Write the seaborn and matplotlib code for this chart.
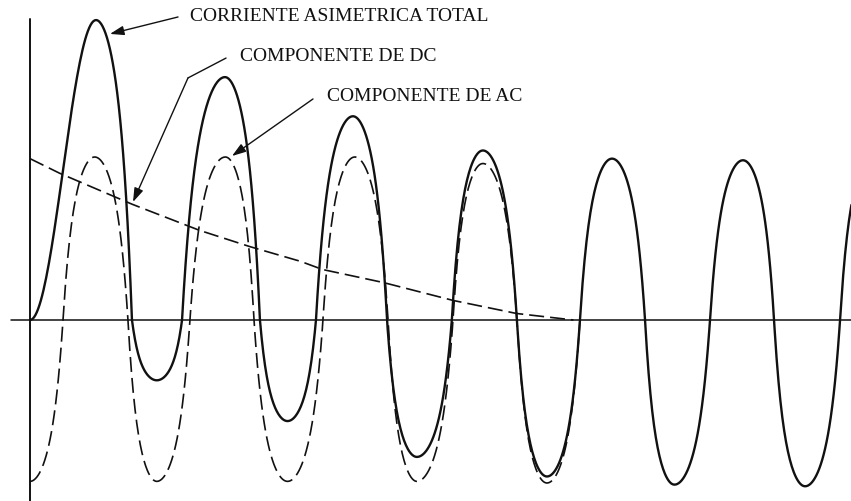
import numpy as np
import pandas as pd
import matplotlib
matplotlib.use("Agg")
import matplotlib.pyplot as plt
import seaborn as sns

# tiempo en ciclos, corriente en unidades de la amplitud de AC
# componente de DC (decae hasta cero)
t_dc = [0.0, 0.23, 0.79, 1.31, 1.70, 2.09, 2.26, 2.73, 3.27, 3.76, 4.20]
i_dc = [0.99, 0.90, 0.71, 0.55, 0.45, 0.36, 0.31, 0.23, 0.12, 0.04, 0.0]

# componente de AC: maximos, minimos y cruces por cero
t_ac = [0.0, 0.255, 0.50, 0.757, 0.98, 1.236, 1.51, 1.731, 1.99, 2.264,
        2.51, 2.767, 2.99, 3.269, 3.50, 3.763, 3.995, 4.25]
i_ac = [-0.99, 0, 1.0, 0, -0.99, 0, 1.0, 0, -0.99, 0,
        1.0, 0, -0.99, 0, 0.96, 0, -1.0, 0]

# corriente asimetrica total
t_tot = [0.0, 0.51, 0.788, 0.98, 1.175, 1.507, 1.777, 1.99, 2.21, 2.496,
         2.759, 2.99, 3.26, 3.50, 3.763, 3.995, 4.25, 4.498, 4.753, 4.98,
         5.255, 5.51, 5.75, 5.99, 6.26, 6.50]
i_tot = [0.0, 1.84, 0, -0.37, 0, 1.49, 0, -0.62, 0, 1.25,
         0, -0.84, 0, 1.04, 0, -0.96, 0, 0.99, 0, -1.01,
         0, 0.98, 0, -1.02, 0, 0.99]

etiquetas = ["CORRIENTE ASIMETRICA TOTAL", "COMPONENTE DE DC", "COMPONENTE DE AC"]

# forma de cada medio lobulo: punta redonda y flancos empinados como en el dibujo
redondez, flanco = 0.62, 5


def perfil(s):
    return 1 - redondez * s ** 2 - (1 - redondez) * s ** flanco


def onda(tk, yk, n=50):
    """traza la forma de onda entre los puntos leidos"""
    ts, ys = [], []
    for k in range(len(tk) - 1):
        t0, t1, y0, y1 = tk[k], tk[k + 1], yk[k], yk[k + 1]
        s = np.linspace(0, 1, n)
        if y1 == 0 and y0 != 0:  # maximo -> cero
            y = y0 * perfil(s)
        elif y0 == 0 and k > 0:  # cero -> maximo
            y = y1 * perfil(1 - s)
        else:  # arranque desde el origen
            y = y0 + (y1 - y0) * (1 - np.cos(np.pi * s)) / 2
        ts.extend(t0 + (t1 - t0) * s)
        ys.extend(y)
    return pd.DataFrame({"t": ts, "i": ys})


df_tot = onda(t_tot, i_tot)
df_ac = onda(t_ac, i_ac)
df_dc = pd.DataFrame({"t": t_dc, "i": i_dc})

sns.set_theme(style="white")
plt.rcParams["font.family"] = ["Liberation Serif", "DejaVu Serif"]

fig = plt.figure(figsize=(8.51, 5.02), dpi=100)
ax = fig.add_axes([0, 0, 1, 1])

tinta = "#111111"
guion = (0, (9, 3.6))

sns.lineplot(data=df_tot, x="t", y="i", ax=ax, sort=False, estimator=None,
             color=tinta, linewidth=1.7)
sns.lineplot(data=df_ac, x="t", y="i", ax=ax, sort=False, estimator=None,
             color=tinta, linewidth=1.2, linestyle=guion)
sns.lineplot(data=df_dc, x="t", y="i", ax=ax, sort=False, estimator=None,
             color=tinta, linewidth=1.2, linestyle=guion)

# ejes dibujados a mano
ax.axhline(0, xmin=0.0134, xmax=1, color=tinta, linewidth=1.1)
ax.axvline(0, ymin=0, ymax=0.96, color=tinta, linewidth=1.4)

ax.set_xlim(-0.2318, 6.3447)
ax.set_ylim(-1.1104, 1.9693)
ax.set_axis_off()

flecha = dict(arrowstyle="-|>,head_length=0.6,head_width=0.2", mutation_scale=14,
              color=tinta, lw=1.0, shrinkA=0, shrinkB=0)

ax.text(1.236, 1.868, etiquetas[0], fontsize=14, color=tinta, va="center", ha="left")
ax.annotate("", xy=(0.618, 1.755), xytext=(1.144, 1.859), arrowprops=flecha)

ax.text(1.623, 1.623, etiquetas[1], fontsize=14, color=tinta, va="center", ha="left")
ax.plot([1.515, 1.221], [1.607, 1.485], color=tinta, lw=1.0)
ax.annotate("", xy=(0.796, 0.724), xytext=(1.221, 1.485), arrowprops=flecha)

ax.text(2.295, 1.377, etiquetas[2], fontsize=14, color=tinta, va="center", ha="left")
ax.annotate("", xy=(1.561, 1.006), xytext=(2.187, 1.356), arrowprops=flecha)

fig.savefig("out.png", dpi=100, facecolor="white")
